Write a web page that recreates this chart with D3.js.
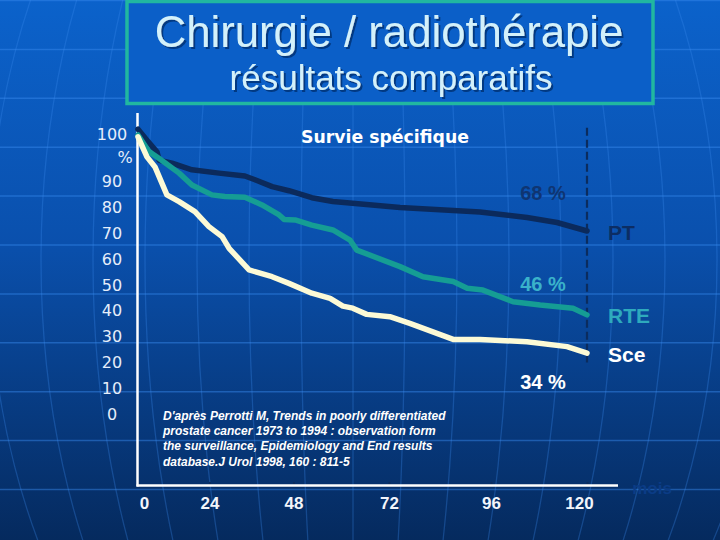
<!DOCTYPE html>
<html>
<head>
<meta charset="utf-8">
<script src="https://cdn.jsdelivr.net/npm/d3@7"></script>
<style>
  html, body { margin: 0; padding: 0; background: #0a4ea8; }
  svg { display: block; }
</style>
</head>
<body>
<div id="chart"></div>
<script>
// data (months / % specific survival)
var ptMonths   = [0, 3, 6.4, 7.1, 11.4, 18.1, 26.7, 34.1, 37, 41.9, 46.7, 52.6, 57.9, 74.6, 93.4, 105, 112.5, 120];
var ptSurvival = [101, 98.7, 96.2, 94.5, 93.9, 92.5, 91.8, 91.2, 90.4, 88.1, 86.5, 83.8, 82.3, 80.0, 78.3, 76.1, 74.2, 70.9];

var rteMonths   = [0, 3.7, 7, 13.8, 18.1, 24.7, 28.4, 34.1, 39, 43.9, 45.3, 48.4, 52.6, 57.9, 62.2, 63.9, 74.6, 80, 87.1, 90.4, 94.1, 101.5, 108.3, 116.5, 120];
var rteSurvival = [99.8, 96.3, 94.9, 91.8, 88.7, 84.9, 84.3, 84.0, 81.0, 77.1, 75.4, 75.2, 73.2, 71.3, 67.4, 63.5, 57.1, 53.2, 51.3, 48.7, 48.0, 43.5, 42.2, 41.0, 38.4];

var sceMonths   = [0, 3, 5.7, 9.7, 13.8, 19.1, 23.8, 27.6, 29.6, 35.3, 41.9, 46.7, 52.6, 57.2, 60.4, 62.9, 66.4, 72.2, 76.9, 87.1, 93.4, 95.8, 105, 115, 120];
var sceSurvival = [99.4, 95.2, 93.1, 84.9, 82.3, 78.4, 72.6, 68.7, 64.2, 55.8, 53.2, 50.6, 46.8, 44.8, 41.8, 41.0, 38.6, 37.7, 35.1, 28.9, 28.9, 28.7, 28.0, 26.1, 23.6];

var xTicks = [0, 24, 48, 72, 96, 120];
var yTicks = [0, 10, 20, 30, 40, 50, 60, 70, 80, 90, 100];

var seriesNames = ["PT", "RTE", "Sce"];
var endPercents = ["68 %", "46 %", "34 %"];

var citation = [
  "D'après Perrotti M, Trends in poorly differentiated",
  "prostate cancer 1973 to 1994 : observation form",
  "the surveillance, Epidemiology and End results",
  "database.J Urol 1998, 160 : 811-5"
];

var width = 720, height = 540;

var svg = d3.select("#chart").append("svg")
  .attr("width", width)
  .attr("height", height);

// background gradient + title shadow
var defs = svg.append("defs");
var grad = defs.append("linearGradient")
  .attr("id", "bg").attr("x1", 0).attr("y1", 0).attr("x2", 0).attr("y2", 1);
grad.append("stop").attr("offset", "0%").attr("stop-color", "#0b62cb");
grad.append("stop").attr("offset", "45%").attr("stop-color", "#0a50ad");
grad.append("stop").attr("offset", "100%").attr("stop-color", "#052a5e");

defs.append("filter").attr("id", "shadow")
  .attr("x", "-5%").attr("y", "-20%").attr("width", "110%").attr("height", "140%")
  .append("feDropShadow")
    .attr("dx", 2).attr("dy", 2).attr("stdDeviation", 0.6)
    .attr("flood-color", "#06367a").attr("flood-opacity", 0.9);

svg.append("rect").attr("width", width).attr("height", height).attr("fill", "url(#bg)");

// globe-like decoration: parallels and meridians
var deco = svg.append("g").attr("fill", "none");
d3.range(0, 11).forEach(function(i) {
  deco.append("line")
    .attr("x1", 0).attr("x2", width)
    .attr("y1", 0.5 + 48.9 * i).attr("y2", 0.5 + 48.9 * i)
    .attr("stroke", "#3a8cf0").attr("stroke-opacity", 0.45).attr("stroke-width", 1.5);
});
d3.range(1, 10).forEach(function(k) {
  deco.append("ellipse")
    .attr("cx", 353).attr("cy", 260)
    .attr("rx", 52 * k).attr("ry", 560)
    .attr("stroke", "#3a8cf0").attr("stroke-opacity", 0.3).attr("stroke-width", 1.3);
});
deco.append("line")
  .attr("x1", 353).attr("x2", 353).attr("y1", 0).attr("y2", height)
  .attr("stroke", "#3a8cf0").attr("stroke-opacity", 0.3).attr("stroke-width", 1.3);

// title box
svg.append("rect")
  .attr("x", 127).attr("y", 1.5)
  .attr("width", 526).attr("height", 102)
  .attr("fill", "#0b5fc8")
  .attr("stroke", "#21b7a0").attr("stroke-width", 3.5);

function titleText(txt, x, y, size) {
  svg.append("text")
    .attr("x", x).attr("y", y)
    .attr("text-anchor", "middle")
    .attr("filter", "url(#shadow)")
    .style("font-family", "'Liberation Sans', Arial, sans-serif")
    .style("font-size", size + "px")
    .attr("fill", "#d3f1fb")
    .text(txt);
}
titleText("Chirurgie / radiothérapie", 389, 47, 43.7);
titleText("résultats comparatifs", 391, 90, 35);

// scales (the slide's axis is not evenly spaced)
var x = d3.scaleLinear()
  .domain(xTicks)
  .range([138, 209.5, 293.5, 389, 491, 587]);

var y = d3.scaleLinear()
  .domain([0, 90, 100])
  .range([414, 181.7, 134]);

// y axis labels
var yAxis = d3.axisLeft(y).tickValues(yTicks).tickSize(0).tickPadding(0);
var gy = svg.append("g").attr("transform", "translate(112,0)").call(yAxis);
gy.select(".domain").remove();
gy.selectAll("text")
  .attr("x", 0)
  .attr("text-anchor", "middle")
  .style("font-family", "'DejaVu Sans', Verdana, sans-serif")
  .style("font-size", "16px")
  .attr("fill", "#e6eefa");

svg.append("text")
  .attr("x", 125).attr("y", 157)
  .attr("dy", "0.35em")
  .attr("text-anchor", "middle")
  .style("font-family", "'DejaVu Sans', Verdana, sans-serif")
  .style("font-size", "16px")
  .attr("fill", "#e6eefa")
  .text("%");

// x axis labels and small tick marks
var xAxis = d3.axisBottom(x).tickValues(xTicks)
  .tickSizeInner(-3).tickSizeOuter(0).tickPadding(12);
var gx = svg.append("g").attr("transform", "translate(0,485)").call(xAxis);
gx.select(".domain").remove();
gx.selectAll(".tick line").attr("stroke", "#0b2c5e").attr("stroke-width", 2);
gx.selectAll("text")
  .attr("dx", function(d, i) { return i === 0 ? 6 : (i === xTicks.length - 1 ? -8 : 0); })
  .style("font-family", "'Liberation Sans', Arial, sans-serif")
  .style("font-size", "17px")
  .style("font-weight", "bold")
  .attr("fill", "#f2f5fb");

// axis lines
svg.append("line")
  .attr("x1", 137.5).attr("x2", 137.5).attr("y1", 113).attr("y2", 486.5)
  .attr("stroke", "#ffffff").attr("stroke-width", 2.5);
svg.append("line")
  .attr("x1", 136.5).attr("x2", 618).attr("y1", 485.5).attr("y2", 485.5)
  .attr("stroke", "#ffffff").attr("stroke-width", 2.5);

svg.append("text")
  .attr("x", 652).attr("y", 488).attr("dy", "0.35em")
  .attr("text-anchor", "middle")
  .style("font-family", "'Liberation Sans', Arial, sans-serif")
  .style("font-size", "17px").style("font-weight", "bold")
  .attr("fill", "#0b3c86")
  .text("mois");

// chart heading
svg.append("text")
  .attr("x", 385).attr("y", 137).attr("dy", "0.36em")
  .attr("text-anchor", "middle")
  .style("font-family", "'DejaVu Sans', Verdana, sans-serif")
  .style("font-size", "17.3px").style("font-weight", "bold")
  .attr("fill", "#ffffff")
  .text("Survie spécifique");

// dashed line at 10 years
svg.append("line")
  .attr("x1", x(120)).attr("x2", x(120))
  .attr("y1", y(101.3)).attr("y2", y(20))
  .attr("stroke", "#0b2c5e").attr("stroke-width", 2.2)
  .attr("stroke-dasharray", "8,4");

// curves
var series = [
  { months: ptMonths,  values: ptSurvival,  color: "#0b2a5c", width: 5.5, label: "#0c2d63", pct: "#0f3572", pctDy: -38 },
  { months: rteMonths, values: rteSurvival, color: "#159d94", width: 5.5, label: "#2eaabd", pct: "#3ab2ca", pctDy: -31.5 },
  { months: sceMonths, values: sceSurvival, color: "#fcfad6", width: 5.5, label: "#ffffff", pct: "#ffffff", pctDy: 28.5 }
];

var line = d3.line()
  .x(function(d) { return x(d[0]); })
  .y(function(d) { return y(d[1]); });

series.forEach(function(s, i) {
  var pts = d3.zip(s.months, s.values);
  svg.append("path")
    .datum(pts)
    .attr("d", line)
    .attr("fill", "none")
    .attr("stroke", s.color)
    .attr("stroke-width", s.width)
    .attr("stroke-linejoin", "round")
    .attr("stroke-linecap", "round");

  var last = pts[pts.length - 1];
  svg.append("text")
    .attr("x", x(last[0]) + 21).attr("y", y(last[1]) + 1)
    .attr("dy", "0.36em")
    .style("font-family", "'Liberation Sans', Arial, sans-serif")
    .style("font-size", "21px").style("font-weight", "bold")
    .attr("fill", s.label)
    .text(seriesNames[i]);

  svg.append("text")
    .attr("x", x(last[0]) - 44).attr("y", y(last[1]) + s.pctDy)
    .attr("dy", "0.36em")
    .attr("text-anchor", "middle")
    .style("font-family", "'Liberation Sans', Arial, sans-serif")
    .style("font-size", "20px").style("font-weight", "bold")
    .attr("fill", s.pct)
    .text(endPercents[i]);
});

// source
svg.append("g")
  .selectAll("text")
  .data(citation)
  .enter()
  .append("text")
    .attr("x", 163)
    .attr("y", function(d, i) { return 419.5 + i * 15.4; })
    .style("font-family", "'Liberation Sans', Arial, sans-serif")
    .style("font-size", "12px").style("font-style", "italic").style("font-weight", "bold")
    .attr("fill", "#ffffff")
    .text(function(d) { return d; });
</script>
</body>
</html>
